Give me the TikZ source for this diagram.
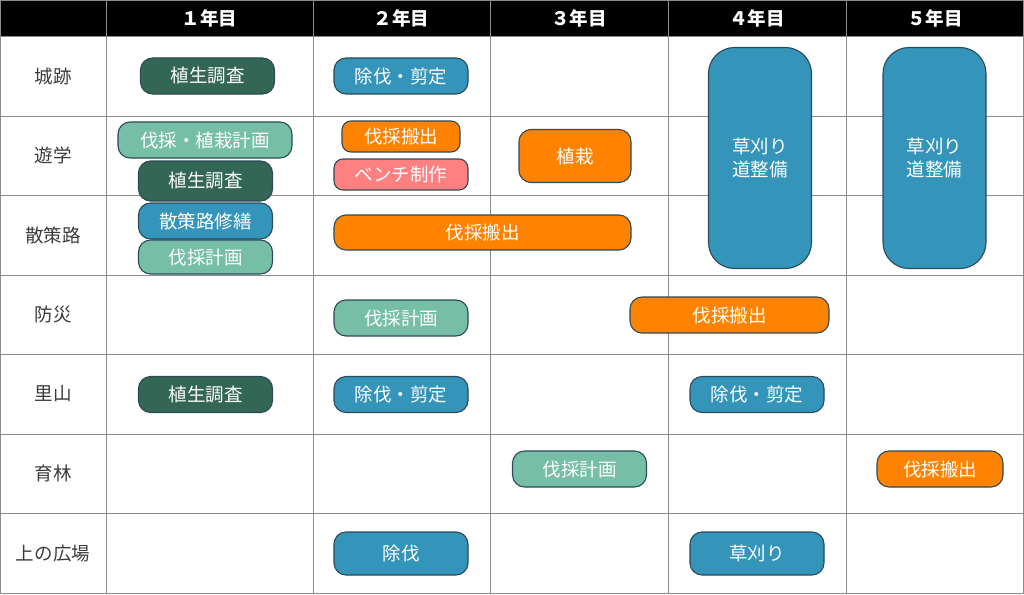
\documentclass[tikz,border=0pt]{standalone}
\usepackage{fontspec}
\setmainfont{Noto Sans CJK JP}
\definecolor{surveygreen}{HTML}{336655}
\definecolor{cutblue}{HTML}{3494BA}
\definecolor{planmint}{HTML}{76BEA5}
\definecolor{haulorange}{HTML}{FF8300}
\definecolor{benchpink}{HTML}{FF8080}
\definecolor{boxline}{HTML}{2C4A58}
\definecolor{gridgray}{HTML}{8C8C8C}
\definecolor{labelgray}{HTML}{3A3A3A}

\begin{document}
\begin{tikzpicture}[x=1pt,y=-1pt,
  gridline/.style={gridgray, line width=0.8pt},
  head/.style={text=white, font=\fontsize{18.5}{20}\selectfont\bfseries},
  rowlabel/.style={text=labelgray, font=\fontsize{18.5}{20}\selectfont},
  task/.style={draw=boxline, line width=1.1pt, rounded corners=12pt, inner sep=0pt,
    text=white, align=center, font=\fontsize{18.5}{23}\selectfont,
    minimum width=134pt, minimum height=36pt},
  survey/.style={task, fill=surveygreen},
  cut/.style={task, fill=cutblue},
  plan/.style={task, fill=planmint},
  haul/.style={task, fill=haulorange},
  bench/.style={task, fill=benchpink}]
\useasboundingbox (0,0) rectangle (1024,594);

% table
\fill[black] (0,0) rectangle (1024,36);
\foreach \y in {36,116,195,275,354,434,513}
  \draw[gridline] (0,\y) -- (1024,\y);
\foreach \x in {106,313,490,668,846}
  \draw[gridline] (\x,0) -- (\x,594);
\draw[gridline] (0.5,0.5) rectangle (1023.5,593.5);

\foreach \x/\num [count=\i] in {209.5/１,401.5/２,579/３,757/４,935/５}
  \node[head] (year\i) at (\x,18) {{\num}年目};
\foreach \y/\area [count=\i] in {76/城跡,155.5/遊学,235/散策路,314.5/防災,394/里山,473.5/育林,553/上の広場}
  \node[rowlabel] (area\i) at (53,\y) {\area};

% tasks
\node[survey] (castlesurvey) at (207.5,76) {植生調査};
\node[cut] (castlecut) at (401,76) {除伐・剪定};

\node[plan, minimum width=174pt] (studyplan) at (205,140) {伐採・植栽計画};
\node[survey, minimum height=40pt] (studysurvey) at (205.5,181) {植生調査};
\node[haul, minimum width=118pt, minimum height=31pt, rounded corners=9pt] (studyhaul) at (401,136.5) {伐採搬出};
\node[bench, minimum height=31pt, rounded corners=9pt] (studybench) at (401,174.5) {ベンチ制作};
\node[haul, minimum width=112pt, minimum height=53pt] (studyplant) at (575,156) {植栽};

\node[cut] (pathrepair) at (205.5,221) {散策路修繕};
\node[plan, minimum height=34pt] (pathplan) at (205.5,257) {伐採計画};
\node[haul, minimum width=297pt, minimum height=35pt] (pathhaul) at (482.5,232.5) {伐採搬出};
\node[cut, minimum width=103pt, minimum height=221pt, rounded corners=26pt] (mowfour) at (760,158) {草刈り\\道整備};
\node[cut, minimum width=103pt, minimum height=221pt, rounded corners=26pt] (mowfive) at (934.5,158) {草刈り\\道整備};

\node[plan] (disasterplan) at (401,318) {伐採計画};
\node[haul, minimum width=199pt] (disasterhaul) at (729.5,315) {伐採搬出};

\node[survey] (satoyamasurvey) at (205.5,394.5) {植生調査};
\node[cut] (satoyamacut) at (401,394.5) {除伐・剪定};
\node[cut] (satoyamacutfour) at (757,394.5) {除伐・剪定};

\node[plan] (forestplan) at (579.5,469) {伐採計画};
\node[haul, minimum width=126pt] (foresthaul) at (940,469) {伐採搬出};

\node[cut, minimum height=43pt] (plazacut) at (401,553.5) {除伐};
\node[cut, minimum height=43pt] (plazamow) at (757,553.5) {草刈り};
\end{tikzpicture}
\end{document}
